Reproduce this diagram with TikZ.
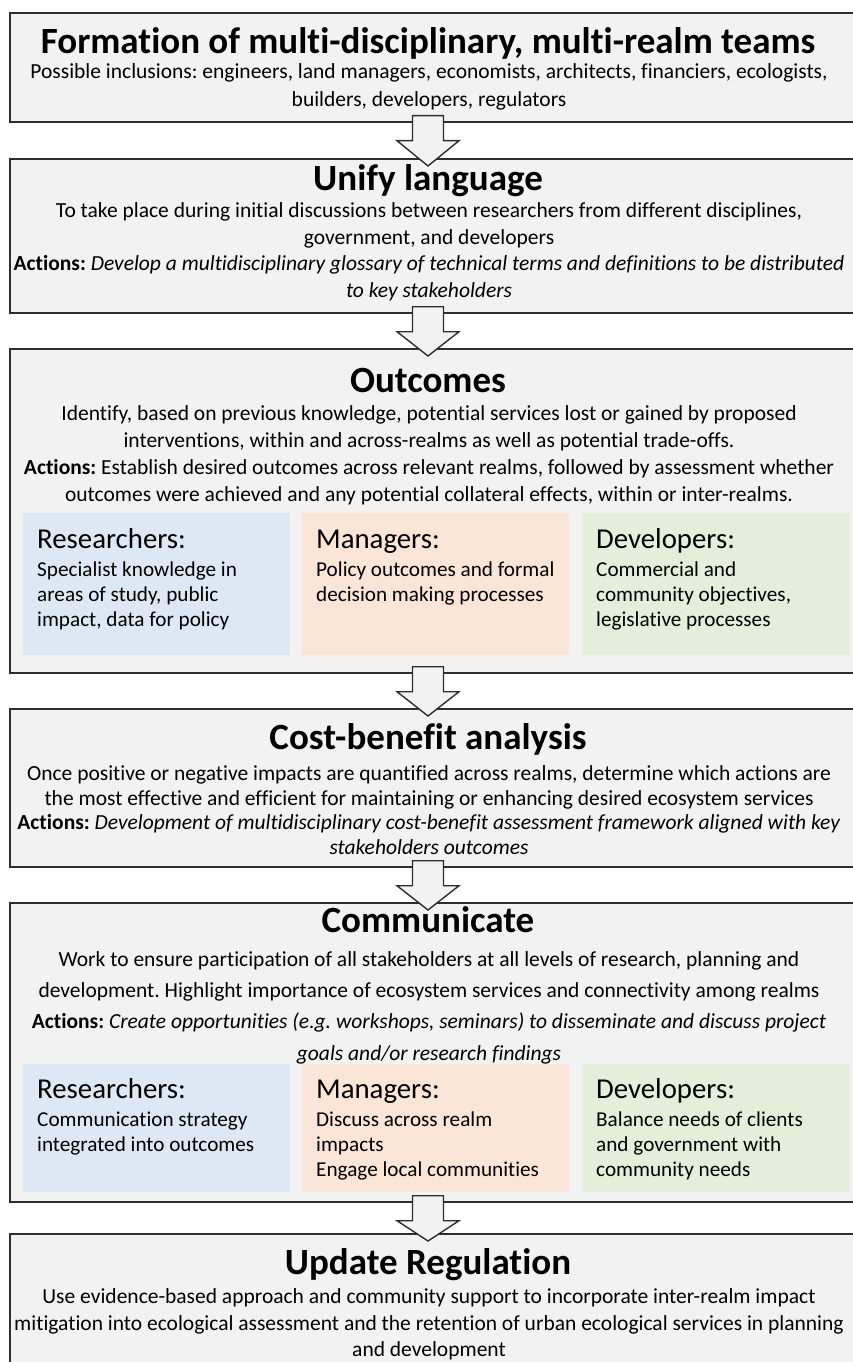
\documentclass[tikz,border=0pt]{standalone}
\usepackage{fontspec}
\setmainfont{Carlito}[Ligatures=NoCommon]
\usetikzlibrary{calc}
\definecolor{boxgray}{HTML}{F2F2F2}
\definecolor{rblue}{HTML}{DEE8F4}
\definecolor{morange}{HTML}{FBE5D7}
\definecolor{dgreen}{HTML}{E3EFDA}
\definecolor{edgecol}{HTML}{2E2E2E}
\frenchspacing
\begin{document}
\begin{tikzpicture}[x=1pt,y=-1pt,
 stage/.style={draw=edgecol, line width=1.7pt, fill=boxgray, rectangle, anchor=north west, minimum width=870pt, inner sep=0pt},
 stagetitle/.style={font=\fontsize{37}{42}\selectfont\bfseries, anchor=base, inner sep=0pt},
 stagebody/.style={font=\fontsize{21.5}{26.5}\selectfont, align=center, anchor=north, inner sep=0pt},
 role/.style={rectangle, anchor=north west, minimum width=267pt, minimum height=142pt, inner sep=0pt},
 rolehead/.style={font=\fontsize{28.8}{33}\selectfont, anchor=base west, inner sep=0pt},
 roletext/.style={font=\fontsize{21.2}{25.2}\selectfont, align=left, anchor=north west, inner sep=0pt},
 flow/.style={draw=edgecol, line width=1.4pt, fill=boxgray, line join=miter}
]
\useasboundingbox (0,0) rectangle (853,1362);
\clip (0,0) rectangle (853,1362);
\fill[white] (0,0) rectangle (853,1362);
\coordinate (ax) at (428,0);

% ---- stage boxes
\node[stage, minimum height=109pt] (b1) at (9,12) {};
\node[stage, minimum height=154pt] (b2) at (9,158) {};
\node[stage, minimum height=324pt] (b3) at (9,348) {};
\node[stage, minimum height=158pt] (b4) at (9,708) {};
\node[stage, minimum height=299pt] (b5) at (9,902) {};
\node[stage, minimum height=200pt] (b6) at (9,1233) {};

% ---- arrows
\newcommand{\blockarrow}[2]{%
 \coordinate (A) at (#1.south -| ax);
 \coordinate (B) at (#2.north -| ax);
 \filldraw[flow] ($(A)+(-15.5,-7)$) -- ($(A)+(15.5,-7)$) -- ($(A)+(15.5,18)$) -- ($(A)+(31,18)$)
   -- ($(B)+(0,8)$) -- ($(A)+(-31,18)$) -- ($(A)+(-15.5,18)$) -- cycle;}
\blockarrow{b1}{b2}
\blockarrow{b2}{b3}
\blockarrow{b3}{b4}
\blockarrow{b4}{b5}
\blockarrow{b5}{b6}

% ---- box 1
\node[stagetitle] (t1) at (428,54) {Formation of multi-disciplinary, multi-realm teams};
\node[stagebody, font=\fontsize{21.5}{27.5}\selectfont] (x1) at (429,63.5) {Possible inclusions: engineers, land managers, economists, architects, financiers, ecologists,\\ builders, developers, regulators};

% ---- box 2
\node[stagetitle] (t2) at (428,190) {Unify language};
\node[stagebody] (x2) at (429,202.5) {To take place during initial discussions between researchers from different disciplines,\\ government, and developers\\ \textbf{Actions:} \textit{Develop a multidisciplinary glossary of technical terms and definitions to be distributed}\\ \textit{to key stakeholders}};

% ---- box 3
\node[stagetitle] (t3) at (428,392) {Outcomes};
\node[stagebody, font=\fontsize{21.5}{26.8}\selectfont] (x3) at (429,405.5) {Identify, based on previous knowledge, potential services lost or gained by proposed\\ interventions, within and across-realms as well as potential trade-offs.\\ \textbf{Actions:} Establish desired outcomes across relevant realms, followed by assessment whether\\ outcomes were achieved and any potential collateral effects, within or inter-realms.};

\node[role, fill=rblue] (r3) at (23,513) {};
\node[role, fill=morange] (m3) at (302,513) {};
\node[role, fill=dgreen] (d3) at (582,513) {};
\node[rolehead] (r3h) at (37,548) {Researchers:};
\node[rolehead] (m3h) at (316,548) {Managers:};
\node[rolehead] (d3h) at (596,548) {Developers:};
\node[roletext] (r3t) at (37,561.5) {Specialist knowledge in\\ areas of study, public\\ impact, data for policy};
\node[roletext] (m3t) at (316,561.5) {Policy outcomes and formal\\ decision making processes};
\node[roletext] (d3t) at (596,561.5) {Commercial and\\ community objectives,\\ legislative processes};

% ---- box 4
\node[stagetitle] (t4) at (428,749) {Cost-benefit analysis};
\node[stagebody, font=\fontsize{21.5}{24.5}\selectfont] (x4) at (429,765.5) {Once positive or negative impacts are quantified across realms, determine which actions are\\ the most effective and efficient for maintaining or enhancing desired ecosystem services\\ \textbf{Actions:} \textit{Development of multidisciplinary cost-benefit assessment framework aligned with key}\\ \textit{stakeholders outcomes}};

% ---- box 5
\node[stagetitle] (t5) at (428,932) {Communicate};
\node[stagebody, font=\fontsize{21.5}{31.3}\selectfont] (x5) at (429,951) {Work to ensure participation of all stakeholders at all levels of research, planning and\\ development. Highlight importance of ecosystem services and connectivity among realms\\ \textbf{Actions:} \textit{Create opportunities (e.g. workshops, seminars) to disseminate and discuss project}\\ \textit{goals and/or research findings}};

\node[role, fill=rblue, minimum height=128pt] (r5) at (23,1064) {};
\node[role, fill=morange, minimum height=128pt] (m5) at (302,1064) {};
\node[role, fill=dgreen, minimum height=128pt] (d5) at (582,1064) {};
\node[rolehead] (r5h) at (37,1098) {Researchers:};
\node[rolehead] (m5h) at (316,1098) {Managers:};
\node[rolehead] (d5h) at (596,1098) {Developers:};
\node[roletext] (r5t) at (37,1111.5) {Communication strategy\\ integrated into outcomes};
\node[roletext] (m5t) at (316,1111.5) {Discuss across realm\\ impacts\\ Engage local communities};
\node[roletext] (d5t) at (596,1111.5) {Balance needs of clients\\ and government with\\ community needs};

% ---- box 6
\node[stagetitle] (t6) at (428,1274) {Update Regulation};
\node[stagebody] (x6) at (429,1288.5) {Use evidence-based approach and community support to incorporate inter-realm impact\\ mitigation into ecological assessment and the retention of urban ecological services in planning\\ and development};
\end{tikzpicture}
\end{document}
